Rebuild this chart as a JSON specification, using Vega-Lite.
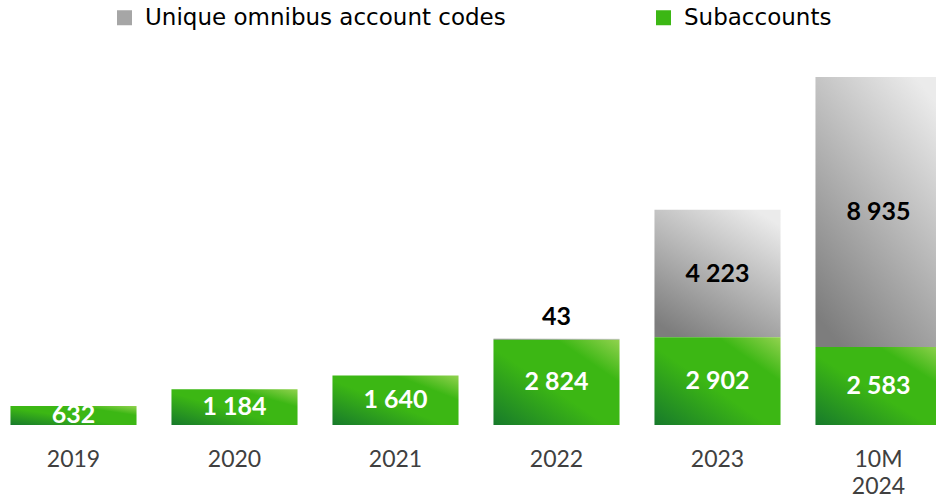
{
  "$schema": "https://vega.github.io/schema/vega-lite/v6.json",
  "autosize": "none",
  "width": 936,
  "height": 425,
  "padding": {"left": 0, "top": 0, "right": 0, "bottom": 78},
  "background": "white",
  "config": {
    "view": {"stroke": null},
    "font": "Lato",
    "locale": {"number": {"decimal": ".", "thousands": " ", "grouping": [3], "currency": ["", ""]}}
  },
  "data": {
    "values": [
      {"year": "2019", "series": "Subaccounts", "value": 632},
      {"year": "2020", "series": "Subaccounts", "value": 1184},
      {"year": "2021", "series": "Subaccounts", "value": 1640},
      {"year": "2022", "series": "Subaccounts", "value": 2824},
      {"year": "2022", "series": "Unique omnibus account codes", "value": 43},
      {"year": "2023", "series": "Subaccounts", "value": 2902},
      {"year": "2023", "series": "Unique omnibus account codes", "value": 4223},
      {"year": "10M 2024", "series": "Subaccounts", "value": 2583},
      {"year": "10M 2024", "series": "Unique omnibus account codes", "value": 8935}
    ]
  },
  "transform": [
    {"stack": "value", "groupby": ["year"], "sort": [{"field": "series", "order": "ascending"}], "as": ["v0", "v1"]},
    {"calculate": "(datum.v0 + datum.v1) / 2", "as": "mid"}
  ],
  "encoding": {
    "x": {
      "field": "year",
      "type": "nominal",
      "sort": ["2019", "2020", "2021", "2022", "2023", "10M 2024"],
      "scale": {"range": [-7, 959], "paddingInner": 0.217, "paddingOuter": 0.1085},
      "axis": {
        "title": null,
        "domain": false,
        "ticks": false,
        "labelAngle": 0,
        "labelFontSize": 23,
        "labelColor": "#404040",
        "labelPadding": 23,
        "labelLineHeight": 27,
        "labelExpr": "datum.label == '10M 2024' ? ['10M', '2024'] : datum.label"
      }
    }
  },
  "layer": [
    {
      "transform": [{"filter": "datum.series != 'Subaccounts'"}],
      "mark": {
        "type": "bar",
        "fill": {"gradient": "linear", "x1": 0.2, "y1": 1, "x2": 0.8, "y2": 0, "stops": [{"offset": 0, "color": "#7d7d7d"}, {"offset": 1, "color": "#ebebeb"}]}
      },
      "encoding": {
        "y": {"field": "v0", "type": "quantitative", "scale": {"domain": [0, 14070], "nice": false, "zero": true}, "axis": null},
        "y2": {"field": "v1"}
      }
    },
    {
      "transform": [{"filter": "datum.series == 'Subaccounts'"}],
      "mark": {
        "type": "bar",
        "fill": {"gradient": "linear", "x1": 0, "y1": 1, "x2": 1, "y2": 0, "stops": [{"offset": 0, "color": "#177a2b"}, {"offset": 0.45, "color": "#3cb714"}, {"offset": 0.75, "color": "#3cb714"}, {"offset": 1, "color": "#92d24f"}]}
      },
      "encoding": {
        "y": {"field": "v0", "type": "quantitative"},
        "y2": {"field": "v1"}
      }
    },
    {
      "mark": {"type": "point", "shape": "square", "filled": true, "opacity": 0},
      "encoding": {
        "y": {"field": "v1", "type": "quantitative"},
        "color": {
          "field": "series",
          "type": "nominal",
          "scale": {
            "domain": ["Unique omnibus account codes", "Subaccounts"],
            "range": ["#a6a6a6", "#3cb714"]
          },
          "legend": {
            "title": null,
            "orient": "none",
            "legendX": 113,
            "legendY": 6,
            "direction": "horizontal",
            "symbolType": "square",
            "symbolSize": 225,
            "symbolOpacity": 1,
            "symbolStrokeWidth": 0,
            "labelFont": "DejaVu Sans",
            "labelFontSize": 23,
            "labelColor": "#000000",
            "labelOffset": 9,
            "labelLimit": 500,
            "columnPadding": 146,
            "encode": {
              "symbols": {
                "update": {
                  "fill": {"signal": "datum.value === 'Subaccounts' ? {gradient: 'linear', x1: 0, y1: 1, x2: 1, y2: 0, stops: [{offset: 0, color: '#1c8a2a'}, {offset: 0.6, color: '#3cb714'}, {offset: 1, color: '#7acb3c'}]} : {gradient: 'linear', x1: 0, y1: 1, x2: 1, y2: 0, stops: [{offset: 0, color: '#8a8a8a'}, {offset: 1, color: '#e6e6e6'}]}"},
                  "opacity": {"value": 1}
                }
              }
            }
          }
        }
      }
    },
    {
      "transform": [{"filter": "datum.series == 'Subaccounts'"}],
      "mark": {"type": "text", "color": "white", "fontWeight": "bold", "fontSize": 25, "baseline": "middle"},
      "encoding": {
        "y": {"field": "mid", "type": "quantitative"},
        "text": {"field": "value", "type": "quantitative", "format": ",d"}
      }
    },
    {
      "transform": [{"filter": "datum.series != 'Subaccounts' && datum.value >= 100"}],
      "mark": {"type": "text", "color": "black", "fontWeight": "bold", "fontSize": 25, "baseline": "middle"},
      "encoding": {
        "y": {"field": "mid", "type": "quantitative"},
        "text": {"field": "value", "type": "quantitative", "format": ",d"}
      }
    },
    {
      "transform": [{"filter": "datum.series != 'Subaccounts' && datum.value < 100"}],
      "mark": {"type": "text", "color": "black", "fontWeight": "bold", "fontSize": 25, "baseline": "bottom", "dy": -8},
      "encoding": {
        "y": {"field": "v1", "type": "quantitative"},
        "text": {"field": "value", "type": "quantitative", "format": ",d"}
      }
    }
  ]
}
